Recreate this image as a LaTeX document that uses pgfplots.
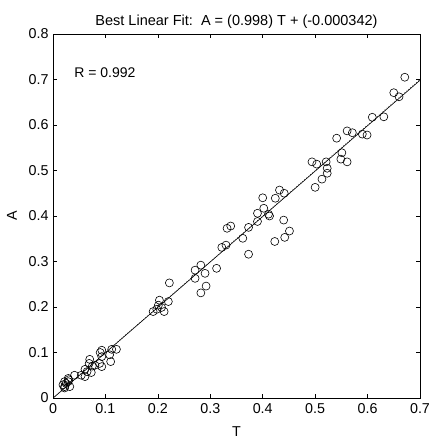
\documentclass[border=0pt]{standalone}
\usepackage{pgfplots}
\pgfplotsset{compat=1.18}
\usepackage{fontspec}
\setmainfont{Liberation Sans}
\begin{document}
\begin{tikzpicture}
\useasboundingbox (-53pt,-40pt) rectangle (376pt,398pt);
\begin{axis}[
  at={(0,0)}, anchor=south west,
  scale only axis, width=367pt, height=364pt,
  xmin=0, xmax=0.7, ymin=0, ymax=0.8,
  xtick={0,0.1,...,0.7}, ytick={0,0.1,...,0.8},
  xticklabels={0,0.1,0.2,0.3,0.4,0.5,0.6,0.7},
  yticklabels={0,0.1,0.2,0.3,0.4,0.5,0.6,0.7,0.8},
  tick align=inside, major tick length=4pt,
  tick style={black, line width=0.6pt},
  axis line style={black, line width=0.8pt},
  /pgf/number format/assume math mode=true,
  ticklabel style={font=\fontsize{14.3}{16}\selectfont},
  xticklabel style={yshift=-2pt},
  yticklabel style={xshift=-1pt},
  label style={font=\fontsize{14.3}{16}\selectfont},
  title style={font=\fontsize{14.5}{16}\selectfont, yshift=-4pt},
  title={Best Linear Fit:\ \ A = (0.998) T + (-0.000342)},
  xlabel={T}, ylabel={A},
  xlabel style={at={(axis description cs:0.5,-0.1044)}, anchor=base, inner sep=0pt},
  ylabel style={at={(axis description cs:-0.1117,0.5)}, anchor=center, inner sep=0pt},
]
\addplot[black, dotted, line width=0.6pt] coordinates {(0,0) (0.7,0.7)};
\addplot[black, line width=0.6pt] coordinates {(0,-0.000342) (0.7,0.698258)};
\addplot[only marks, mark=o, mark size=4pt, mark options={black, line width=0.6pt}] coordinates {
(0.019,0.029)(0.022,0.025)(0.022,0.022)(0.032,0.025)(0.022,0.036)(0.029,0.036)(0.029,0.043)(0.025,0.032)(0.030,0.040)
(0.041,0.050)(0.054,0.050)(0.061,0.047)(0.073,0.056)(0.061,0.063)(0.075,0.070)(0.069,0.076)(0.070,0.085)(0.089,0.076)
(0.093,0.069)(0.093,0.091)(0.108,0.095)(0.110,0.080)(0.093,0.105)(0.112,0.107)(0.121,0.107)(0.065,0.058)(0.080,0.072)(0.090,0.100)
(0.191,0.190)(0.198,0.195)(0.207,0.199)(0.201,0.204)(0.212,0.190)(0.203,0.215)(0.220,0.212)(0.222,0.253)
(0.271,0.263)(0.271,0.281)(0.282,0.292)(0.290,0.274)(0.312,0.285)(0.292,0.246)(0.282,0.231)
(0.322,0.331)(0.330,0.336)(0.332,0.373)(0.339,0.378)(0.362,0.351)(0.373,0.375)(0.373,0.316)
(0.390,0.388)(0.390,0.406)(0.402,0.417)(0.411,0.404)(0.413,0.400)(0.400,0.440)(0.424,0.439)(0.432,0.457)(0.441,0.450)
(0.440,0.391)(0.451,0.367)(0.442,0.353)(0.423,0.344)
(0.494,0.519)(0.503,0.514)(0.521,0.519)(0.523,0.505)(0.523,0.494)(0.513,0.481)(0.500,0.463)
(0.541,0.571)(0.561,0.587)(0.571,0.583)(0.590,0.580)(0.599,0.578)(0.551,0.539)(0.549,0.525)(0.561,0.519)
(0.609,0.617)(0.631,0.618)(0.650,0.671)(0.660,0.662)(0.671,0.705)
};
\node[anchor=west, font=\fontsize{14}{16}\selectfont] at (axis cs:0.034,0.714) {R = 0.992};
\end{axis}
\end{tikzpicture}
\end{document}
